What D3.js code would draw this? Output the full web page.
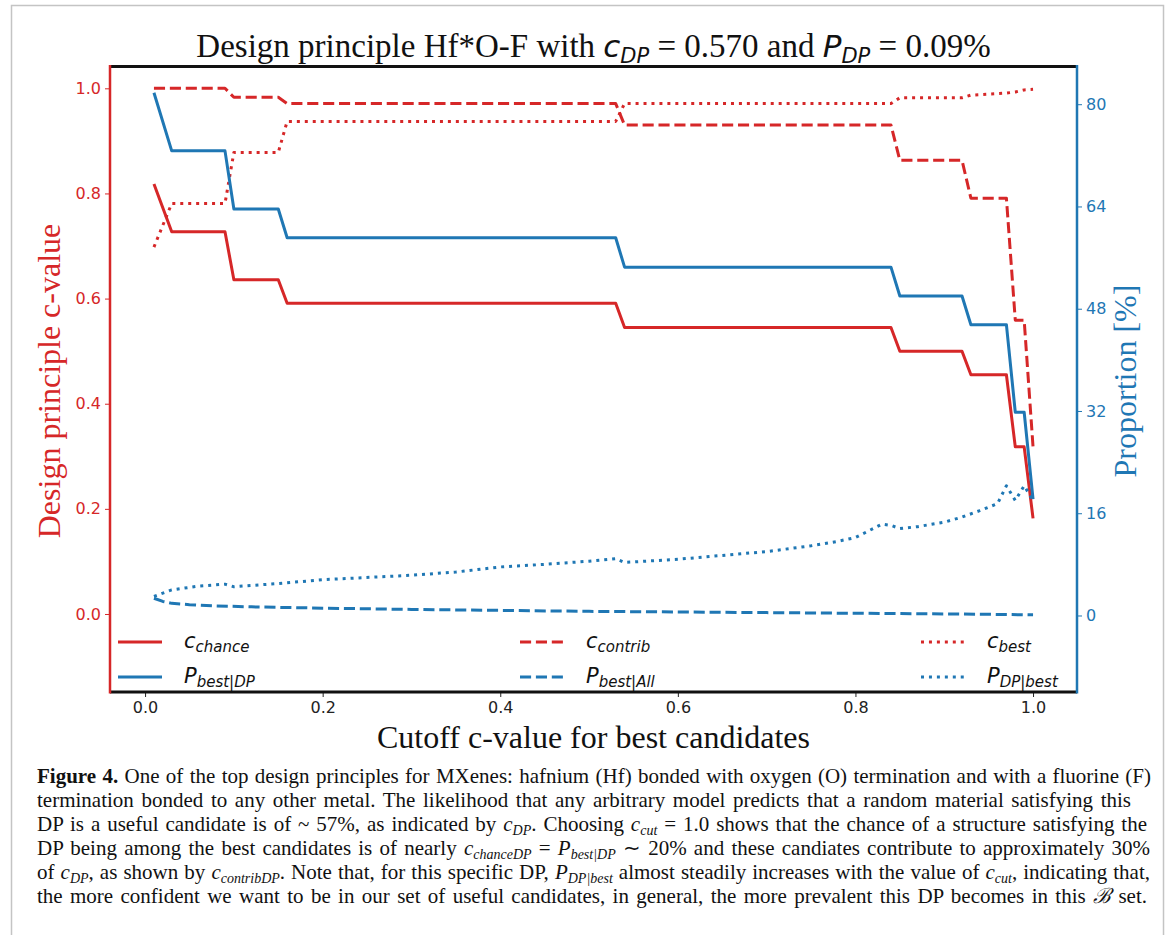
<!DOCTYPE html>
<html>
<head>
<meta charset="utf-8">
<script src="https://cdn.jsdelivr.net/npm/d3@7"></script>
<style>
  html, body { margin: 0; padding: 0; background: #fff; }
  svg { display: block; }
</style>
</head>
<body>
<script>
// ---- data -------------------------------------------------------------
// Cutoff values where the step-like curves change level
const stepX = [0.01, 0.03, 0.09, 0.10, 0.15, 0.16, 0.53, 0.54, 0.84, 0.85, 0.92, 0.93, 0.97, 0.98, 0.99, 1.00];
const cChance = [0.818, 0.727, 0.727, 0.636, 0.636, 0.591, 0.591, 0.545, 0.545, 0.500, 0.500, 0.455, 0.455, 0.318, 0.318, 0.182];
const cContrib = [1.000, 1.000, 1.000, 0.983, 0.983, 0.971, 0.971, 0.930, 0.930, 0.863, 0.863, 0.791, 0.791, 0.559, 0.559, 0.318];
const pBestDP = [81.8, 72.7, 72.7, 63.6, 63.6, 59.1, 59.1, 54.5, 54.5, 50.0, 50.0, 45.5, 45.5, 31.8, 31.8, 18.2];

const cBestX = [0.01, 0.03, 0.09, 0.10, 0.15, 0.16, 0.53, 0.54, 0.84, 0.85, 0.92, 0.93, 0.97, 0.98, 0.99, 1.00];
const cBest = [0.698, 0.781, 0.781, 0.878, 0.878, 0.937, 0.937, 0.971, 0.971, 0.982, 0.982, 0.987, 0.991, 0.993, 0.997, 0.998];

const pBestAllX = [0.01, 0.02, 0.03, 0.05, 0.08, 0.12, 0.20, 0.30, 0.40, 0.50, 0.60, 0.70, 0.80, 0.90, 0.95, 1.00];
const pBestAll = [2.7, 2.2, 1.9, 1.7, 1.5, 1.35, 1.15, 0.95, 0.8, 0.65, 0.55, 0.45, 0.35, 0.25, 0.18, 0.1];

const pDPbestX = [0.01, 0.03, 0.06, 0.09, 0.10, 0.15, 0.20, 0.30, 0.35, 0.40, 0.45, 0.50, 0.53, 0.54, 0.60, 0.65, 0.70, 0.75, 0.78, 0.80, 0.82, 0.83, 0.84, 0.85, 0.87, 0.90, 0.92, 0.94, 0.96, 0.97, 0.98, 0.99, 1.00];
const pDPbest = [3.0, 4.0, 4.6, 4.9, 4.5, 5.0, 5.6, 6.3, 6.8, 7.6, 8.0, 8.5, 8.9, 8.3, 8.8, 9.4, 10.0, 10.9, 11.6, 12.2, 13.6, 14.3, 14.1, 13.6, 13.9, 14.6, 15.4, 16.4, 17.5, 20.3, 18.0, 20.3, 18.0];

const xTicks = [0.0, 0.2, 0.4, 0.6, 0.8, 1.0];
const yLeftTicks = [0.0, 0.2, 0.4, 0.6, 0.8, 1.0];
const yRightTicks = [0, 16, 32, 48, 64, 80];

// ---- layout -----------------------------------------------------------
const W = 1170, H = 935;
const red = "#d62728", blue = "#1f77b4";
const serif = "'Liberation Serif', 'Times New Roman', serif";
const sans = "'DejaVu Sans', sans-serif";

const svg = d3.select("body").append("svg").attr("width", W).attr("height", H);

// page frame
svg.append("rect").attr("x", 11.5).attr("y", 5.5).attr("width", 1152).attr("height", 960)
  .attr("fill", "none").attr("stroke", "#c4c4c4").attr("stroke-width", 1.5);

const plot = { left: 110, right: 1077, top: 66.5, bottom: 692 };

const x = d3.scaleLinear().domain([-0.0395, 1.0495]).range([plot.left, plot.right]);
const yL = d3.scaleLinear().domain([-0.1484, 1.0415]).range([plot.bottom, plot.top]);
const yR = d3.scaleLinear().domain([-11.97, 85.9]).range([plot.bottom, plot.top]);

// ---- series -----------------------------------------------------------
const lw = 3;
const dashed = [3.7 * lw, 1.6 * lw].join(",");
const dotted = [1 * lw, 1.65 * lw].join(",");

function series(xs, ys, yScale, color, dash) {
  const pts = xs.map((d, i) => [d, ys[i]]);
  const line = d3.line().x(d => x(d[0])).y(d => yScale(d[1]));
  svg.append("path").datum(pts)
    .attr("d", line)
    .attr("fill", "none")
    .attr("stroke", color)
    .attr("stroke-width", lw)
    .attr("stroke-linejoin", "round")
    .attr("stroke-dasharray", dash || null);
}

series(stepX, cChance, yL, red, null);
series(stepX, cContrib, yL, red, dashed);
series(cBestX, cBest, yL, red, dotted);
series(stepX, pBestDP, yR, blue, null);
series(pBestAllX, pBestAll, yR, blue, dashed);
series(pDPbestX, pDPbest, yR, blue, dotted);

// ---- axes -------------------------------------------------------------
function styleAxis(g, color, fontSize) {
  g.select(".domain").remove();
  g.selectAll(".tick line").attr("stroke", color).attr("stroke-width", 1);
  g.selectAll(".tick text").attr("fill", color)
    .style("font-family", sans).style("font-size", fontSize + "px");
}

svg.append("g").attr("transform", `translate(${plot.left},0)`)
  .call(d3.axisLeft(yL).tickValues(yLeftTicks).tickFormat(d3.format(".1f")).tickSize(5).tickPadding(4))
  .call(g => styleAxis(g, red, 16));

svg.append("g").attr("transform", `translate(${plot.right},0)`)
  .call(d3.axisRight(yR).tickValues(yRightTicks).tickFormat(d3.format("d")).tickSize(5).tickPadding(4))
  .call(g => styleAxis(g, blue, 16));

svg.append("g").attr("transform", `translate(0,${plot.bottom})`)
  .call(d3.axisBottom(x).tickValues(xTicks).tickFormat(d3.format(".1f")).tickSize(5).tickPadding(5))
  .call(g => styleAxis(g, "#222", 16));

// spines
svg.append("line").attr("x1", plot.left).attr("x2", plot.right).attr("y1", plot.top).attr("y2", plot.top)
  .attr("stroke", "#111").attr("stroke-width", 3);
svg.append("line").attr("x1", plot.left).attr("x2", plot.right).attr("y1", plot.bottom).attr("y2", plot.bottom)
  .attr("stroke", "#111").attr("stroke-width", 3);
svg.append("line").attr("x1", plot.left).attr("x2", plot.left).attr("y1", plot.top - 1.5).attr("y2", plot.bottom + 1.5)
  .attr("stroke", red).attr("stroke-width", 2.5);
svg.append("line").attr("x1", plot.right).attr("x2", plot.right).attr("y1", plot.top - 1.5).attr("y2", plot.bottom + 1.5)
  .attr("stroke", blue).attr("stroke-width", 2.5);

// ---- labels -----------------------------------------------------------
// title: serif text mixed with oblique math symbols
const title = svg.append("text").attr("x", (plot.left + plot.right) / 2).attr("y", 57)
  .attr("text-anchor", "middle").attr("fill", "#111")
  .style("font-family", serif).style("font-size", "33px");
const mathStyle = (ts, size) => ts.style("font-family", sans).style("font-style", "italic").style("font-size", size + "px");
title.append("tspan").text("Design principle Hf*O-F with ");
mathStyle(title.append("tspan"), 31).text("c");
mathStyle(title.append("tspan"), 21).attr("dy", 6).text("DP");
title.append("tspan").attr("dy", -6).text(" = 0.570 and ");
mathStyle(title.append("tspan"), 31).text("P");
mathStyle(title.append("tspan"), 21).attr("dy", 6).text("DP");
title.append("tspan").attr("dy", -6).text(" = 0.09%");

svg.append("text").attr("x", (plot.left + plot.right) / 2).attr("y", 748)
  .attr("text-anchor", "middle").attr("fill", "#111")
  .style("font-family", serif).style("font-size", "32px")
  .text("Cutoff c-value for best candidates");

svg.append("text").attr("transform", "translate(60,381) rotate(-90)")
  .attr("text-anchor", "middle").attr("fill", red)
  .style("font-family", serif).style("font-size", "32px")
  .text("Design principle c-value");

svg.append("text").attr("transform", "translate(1136,381) rotate(-90)")
  .attr("text-anchor", "middle").attr("fill", blue)
  .style("font-family", serif).style("font-size", "32px")
  .text("Proportion [%]");

// ---- legend -----------------------------------------------------------
const legendItems = [
  { sym: "c", sub: "chance", color: red, dash: null, col: 0, row: 0 },
  { sym: "c", sub: "contrib", color: red, dash: dashed, col: 1, row: 0 },
  { sym: "c", sub: "best", color: red, dash: dotted, col: 2, row: 0 },
  { sym: "P", sub: "best|DP", color: blue, dash: null, col: 0, row: 1 },
  { sym: "P", sub: "best|All", color: blue, dash: dashed, col: 1, row: 1 },
  { sym: "P", sub: "DP|best", color: blue, dash: dotted, col: 2, row: 1 }
];
const legendColX = [118, 520, 921];
const legendRowY = [642, 677];
legendItems.forEach(d => {
  const lx = legendColX[d.col], ly = legendRowY[d.row];
  svg.append("line").attr("x1", lx).attr("x2", lx + 44).attr("y1", ly).attr("y2", ly)
    .attr("stroke", d.color).attr("stroke-width", lw).attr("stroke-dasharray", d.dash);
  const t = svg.append("text").attr("x", lx + 66).attr("y", ly + 6).attr("fill", "#111")
    .style("font-family", sans).style("font-style", "italic");
  t.append("tspan").style("font-size", "21px").text(d.sym);
  t.append("tspan").style("font-size", "15px").attr("dy", 4).text(d.sub);
});

// ---- caption ----------------------------------------------------------
// segments: [text, kind] with kind n = normal, b = bold, i = italic, s = italic subscript
const captionLines = [
  [["Figure 4.", "b"], [" One of the top design principles for MXenes: hafnium (Hf) bonded with oxygen (O) termination and with a fluorine (F)", "n"]],
  [["termination bonded to any other metal. The likelihood that any arbitrary model predicts that a random material satisfying this", "n"]],
  [["DP is a useful candidate is of ~ 57%, as indicated by ", "n"], ["c", "i"], ["DP", "s"], [". Choosing ", "n"], ["c", "i"], ["cut", "s"], [" = 1.0 shows that the chance of a structure satisfying the", "n"]],
  [["DP being among the best candidates is of nearly ", "n"], ["c", "i"], ["chanceDP", "s"], [" = ", "n"], ["P", "i"], ["best|DP", "s"], [" ∼ 20% and these candiates contribute to approximately 30%", "n"]],
  [["of ", "n"], ["c", "i"], ["DP", "s"], [", as shown by ", "n"], ["c", "i"], ["contribDP", "s"], [". Note that, for this specific DP, ", "n"], ["P", "i"], ["DP|best", "s"], [" almost steadily increases with the value of ", "n"], ["c", "i"], ["cut", "s"], [", indicating that,", "n"]],
  [["the more confident we want to be in our set of useful candidates, in general, the more prevalent this DP becomes in this ", "n"], ["ℬ", "i"], [" set.", "n"]]
];
const captionWidths = [1114, 1094, 1110, 1113, 1113, 1110];
const captionLeft = 37, captionTop = 783, captionStep = 24;

captionLines.forEach((segs, li) => {
  const t = svg.append("text").attr("x", captionLeft).attr("y", captionTop + li * captionStep)
    .attr("fill", "#111").style("font-family", serif).style("font-size", "21px");
  let sub = false;
  segs.forEach(([txt, kind]) => {
    const ts = t.append("tspan").text(txt);
    if (kind === "b") ts.style("font-weight", "bold");
    if (kind === "i" || kind === "s") ts.style("font-style", "italic");
    if (kind === "s") { ts.style("font-size", "14px").attr("dy", 4); sub = true; }
    else if (sub) { ts.attr("dy", -4); sub = false; }
  });
  // spread words so the line spans its column width
  const natural = t.node().getComputedTextLength();
  const spaces = segs.map(s => s[0]).join("").split(" ").length - 1;
  if (spaces > 0) t.style("word-spacing", ((captionWidths[li] - natural) / spaces) + "px");
});
</script>
</body>
</html>
